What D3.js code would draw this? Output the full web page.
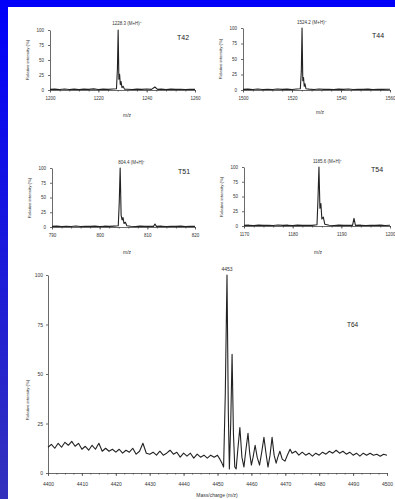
<!DOCTYPE html>
<html><head><meta charset="utf-8">
<script src="https://cdn.jsdelivr.net/npm/d3@7"></script>
<style>html,body{margin:0;padding:0;background:#fff;overflow:hidden}</style>
</head><body><svg id="c" width="395" height="499"></svg>
<script>
// ---------- data ----------
const yTicks = [0, 25, 50, 75, 100];

const t42Ticks = [1200, 1220, 1240, 1260];
const t42Trace = [[1200,1],[1202,1.5],[1204,0.8],[1206,1.6],[1208,0.9],[1210,1.4],[1212,0.7],[1214,1.5],[1216,1],[1218,1.8],[1220,0.8],[1222,1.5],[1224,1],[1226,1.6],[1227.5,2],[1227.9,35],[1228.2,100],[1228.5,18],[1228.8,26],[1229.1,9],[1229.4,14],[1229.8,4],[1230.3,6],[1230.8,1.5],[1232,1.2],[1234,0.8],[1236,1.5],[1238,1],[1240,1.6],[1242,1],[1243.4,5],[1244.5,1],[1246,1.4],[1248,0.8],[1250,1.5],[1252,1],[1254,1.3],[1256,0.8],[1258,1.2],[1260,1]];

const t44Ticks = [1500, 1520, 1540, 1560];
const t44Trace = [[1500,1],[1502,1.4],[1504,0.8],[1506,1.5],[1508,0.9],[1510,1.3],[1512,0.8],[1514,1.6],[1516,1],[1518,1.4],[1520,0.9],[1522,1.5],[1523.4,2],[1523.8,30],[1524.1,100],[1524.4,15],[1524.7,20],[1525,6],[1525.3,10],[1525.7,2],[1527,1.4],[1529,0.8],[1531,1.5],[1533,1],[1535,1.3],[1537,0.8],[1539,1.4],[1541,1],[1543,1.5],[1545,0.8],[1547,1.3],[1549,1],[1551,1.4],[1553,0.8],[1555,1.2],[1557,1],[1560,1.2]];

const t51Ticks = [790, 800, 810, 820];
const t51Trace = [[790,1],[791,1.5],[792,0.8],[793,1.4],[794,0.9],[795,1.6],[796,0.8],[797,1.3],[798,1],[799,1.5],[800,0.8],[801,1.4],[802,1],[803,1.5],[803.9,2],[804.1,40],[804.3,100],[804.5,20],[804.7,12],[804.9,16],[805.1,6],[805.4,8],[805.7,2],[806.5,1.2],[807.5,0.8],[808.5,1.5],[809.5,1],[810.5,1.3],[811.3,1],[811.6,5],[811.9,1],[813,1.4],[814,0.8],[815,1.3],[816,1],[817,1.5],[818,0.9],[819,1.2],[820,1]];

const t54Ticks = [1170, 1180, 1190, 1200];
const t54Trace = [[1170,1],[1171,1.4],[1172,0.8],[1173,1.5],[1174,1],[1175,1.3],[1176,0.8],[1177,1.6],[1178,1],[1179,1.4],[1180,0.9],[1181,1.5],[1182,1],[1183,1.3],[1184,1],[1185,2],[1185.2,45],[1185.4,100],[1185.6,30],[1185.8,38],[1186,12],[1186.3,15],[1186.6,3],[1187.5,1.4],[1188.5,0.9],[1189.5,1.5],[1190.5,1],[1191.5,1.3],[1192.3,1],[1192.6,13],[1192.9,1],[1194,1.4],[1195,0.8],[1196,1.3],[1197,1],[1198,1.5],[1199,0.9],[1200,1.2]];

const t64Ticks = [4400, 4410, 4420, 4430, 4440, 4450, 4460, 4470, 4480, 4490, 4500];
const t64Trace = [[4400,13],[4401,14.5],[4402,12.5],[4403,15],[4404,13],[4405,15.5],[4406,14],[4407,16],[4408,13.5],[4409,15],[4410,12],[4411,13.5],[4412,11.5],[4413,14],[4414,12],[4415,15],[4416,11],[4417,12.5],[4418,11],[4419,12],[4420,10.5],[4421,12],[4422,10],[4423,11.5],[4424,10.5],[4425,12.5],[4426,9.5],[4427,11],[4428,15],[4429,10],[4430,9.5],[4431,10.5],[4432,9],[4433,11],[4434,9],[4435,10],[4436,11.5],[4437,9.5],[4438,10.5],[4439,8],[4440,10],[4441,8.5],[4442,10],[4443,7.5],[4444,9.5],[4445,8],[4446,9],[4447,7.5],[4448,9],[4449,8],[4450,9],[4450.7,7],[4451.3,5],[4451.8,3],[4452.3,40],[4452.8,100],[4453.2,30],[4453.5,2],[4453.9,25],[4454.3,60],[4454.7,20],[4455.1,3],[4455.5,2],[4456,12],[4456.6,23],[4457.2,8],[4457.8,3],[4458.4,12],[4459,20],[4459.5,10],[4460,4],[4460.5,8],[4461.1,14],[4461.7,8],[4462.4,4],[4463,10],[4463.7,18],[4464.3,10],[4464.9,3],[4465.5,9],[4466.1,18],[4466.7,9],[4467.3,5],[4467.8,8],[4468.4,11],[4469.1,7],[4469.9,6],[4470.6,9],[4471.4,12],[4472,10],[4473,11],[4474,9],[4475,10.5],[4476,9],[4477,10],[4478,8.5],[4479,10],[4480,9],[4481,10.5],[4482,9.5],[4483,11],[4484,10],[4485,11.5],[4486,10],[4487,11],[4488,9.5],[4489,10.5],[4490,9],[4491,10],[4492,8.5],[4493,10],[4494,9],[4495,10],[4496,9],[4497,9.5],[4498,8.5],[4499,9.5],[4500,9]];

const panelNames = ["T42", "T44", "T51", "T54", "T64"];
const peakLabels = ["1228.3 (M+H)\u207A", "1524.2 (M+H)\u207A", "804.4 (M+H)\u207A", "1185.6 (M+H)\u207A", "4453"];
const yTitle = "Relative intensity (%)";
const xTitleSmall = "m/z";
const xTitleBig = "Mass/charge (m/z)";

// ---------- drawing ----------
const svg = d3.select("#c");
const defs = svg.append("defs");
const grad = defs.append("linearGradient").attr("id","bg").attr("x1",0).attr("y1",0).attr("x2",0).attr("y2",1);
grad.append("stop").attr("offset","0%").attr("stop-color","#0000fa");
grad.append("stop").attr("offset","100%").attr("stop-color","#3432bc");
svg.append("rect").attr("width",395).attr("height",499).attr("fill","url(#bg)");
svg.append("rect").attr("x",8).attr("y",7).attr("width",387).attr("height",492).attr("fill","#fff");

const FONT = "Liberation Sans, Arial, sans-serif";
const INK = "#333";

function panel(o) {
  const g = svg.append("g");
  const x = d3.scaleLinear().domain([o.ticks[0], o.ticks[o.ticks.length-1]]).range([o.x0, o.x1]);
  const y = d3.scaleLinear().domain([0, 100]).range([o.y1, o.y0]);
  const minor = d3.range(o.ticks[0], o.ticks[o.ticks.length-1] + 1e-9, o.minorStep);

  const mx = g.append("g").attr("transform", `translate(0,${o.y1})`)
    .call(d3.axisBottom(x).tickValues(minor).tickSize(o.minorSize).tickSizeOuter(0).tickFormat(""));
  mx.select(".domain").remove();
  const ax = g.append("g").attr("transform", `translate(0,${o.y1})`)
    .call(d3.axisBottom(x).tickValues(o.ticks).tickSize(o.majorSize).tickSizeOuter(0).tickPadding(o.xPad).tickFormat(d3.format("d")));
  const ay = g.append("g").attr("transform", `translate(${o.x0},0)`)
    .call(d3.axisLeft(y).tickValues(yTicks).tickSize(2).tickSizeOuter(0).tickPadding(o.yPad));
  [mx, ax, ay].forEach(a => {
    a.attr("font-family", FONT).attr("font-size", o.tickFont);
    a.selectAll("path,line").attr("stroke", "#444").attr("stroke-width", 0.8);
    a.selectAll("text").attr("fill", INK);
  });

  g.append("path").datum(o.trace)
    .attr("fill","none").attr("stroke","#222").attr("stroke-width",1.1).attr("stroke-linejoin","round")
    .attr("d", d3.line().x(d => x(d[0])).y(d => y(d[1])));

  // peak label
  const pk = o.trace.reduce((a,b) => b[1] > a[1] ? b : a);
  g.append("text").attr("x", x(pk[0]) + o.peakDx).attr("y", o.peakY)
    .attr("text-anchor", o.peakAnchor).attr("font-family", FONT).attr("font-size", o.peakFont).attr("fill", INK)
    .text(o.peakLabel);
  // panel name
  g.append("text").attr("x", o.nameX).attr("y", o.nameY).attr("font-family", FONT)
    .attr("font-size", o.nameFont).attr("fill", "#222").text(o.name);
  // axis titles
  g.append("text").attr("x", o.xtX).attr("y", o.xtY).attr("text-anchor","middle")
    .attr("font-family", FONT).attr("font-size", o.xtFont).attr("fill", INK).text(o.xTitle);
  g.append("text").attr("transform", `translate(${o.ytX},${o.ytY}) rotate(-90)`).attr("text-anchor","middle")
    .attr("font-family", FONT).attr("font-size", o.ytFont).attr("fill", INK).text(yTitle);
}

const small = {minorSize:1.5, majorSize:2.5, xPad:4, yPad:4, tickFont:4.5, peakFont:4.5, peakAnchor:"start", nameFont:7, xtFont:5, ytFont:4.3};

panel(Object.assign({}, small, {ticks:t42Ticks, trace:t42Trace, minorStep:4, x0:50, x1:195, y0:30, y1:90,
  peakLabel:peakLabels[0], peakDx:-6, peakY:25, name:panelNames[0], nameX:177, nameY:40,
  xTitle:xTitleSmall, xtX:127, xtY:117, ytX:29, ytY:60}));
panel(Object.assign({}, small, {ticks:t44Ticks, trace:t44Trace, minorStep:4, x0:243, x1:390, y0:28, y1:90,
  peakLabel:peakLabels[1], peakDx:-5, peakY:24, name:panelNames[1], nameX:372, nameY:38,
  xTitle:xTitleSmall, xtX:320, xtY:114, ytX:222, ytY:59}));
panel(Object.assign({}, small, {ticks:t51Ticks, trace:t51Trace, minorStep:2, x0:52, x1:195, y0:168, y1:227,
  peakLabel:peakLabels[2], peakDx:-2, peakY:164, name:panelNames[2], nameX:178, nameY:174,
  xTitle:xTitleSmall, xtX:127, xtY:254, ytX:31, ytY:198}));
panel(Object.assign({}, small, {ticks:t54Ticks, trace:t54Trace, minorStep:2, x0:244, x1:390, y0:167, y1:226,
  peakLabel:peakLabels[3], peakDx:-6, peakY:163, name:panelNames[3], nameX:371, nameY:172,
  xTitle:xTitleSmall, xtX:318, xtY:254, ytX:223, ytY:197}));
panel({ticks:t64Ticks, trace:t64Trace, minorStep:2.5, minorSize:1.5, majorSize:3, xPad:6, yPad:3, tickFont:5,
  x0:48, x1:387, y0:275, y1:473, peakLabel:peakLabels[4], peakDx:0, peakY:271, peakAnchor:"middle", peakFont:5,
  name:panelNames[4], nameX:347, nameY:327, nameFont:6.5,
  xTitle:xTitleBig, xtX:217, xtY:496.5, xtFont:5, ytX:29, ytY:400, ytFont:4.3});
</script>
</body></html>
